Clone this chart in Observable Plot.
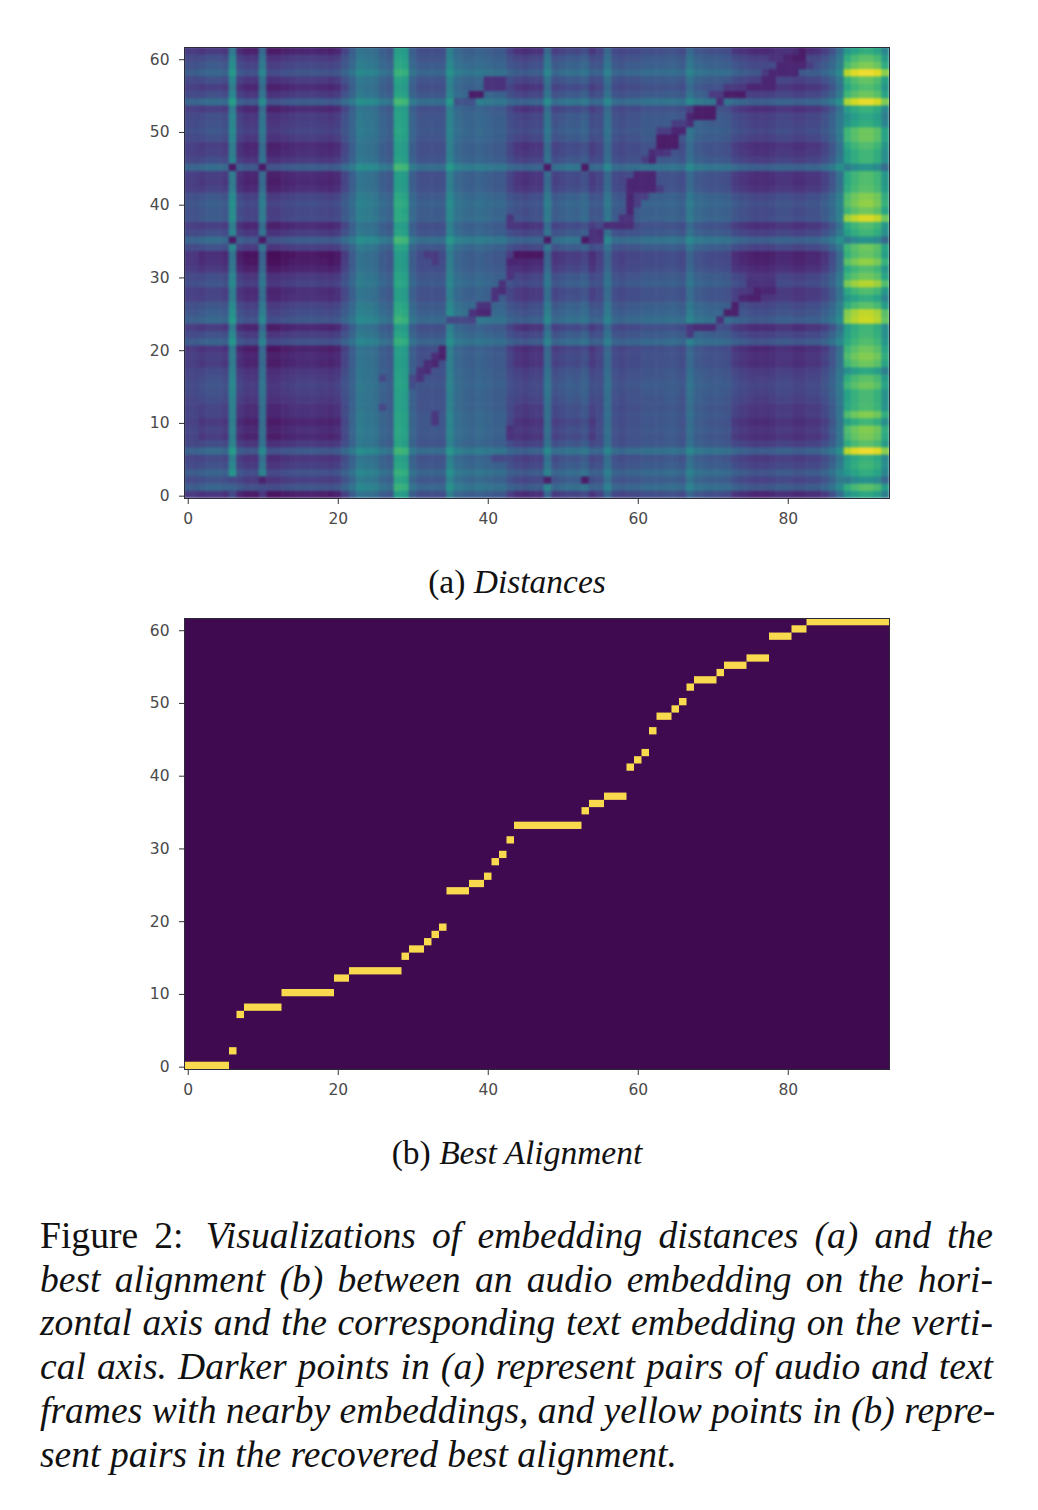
<!DOCTYPE html>
<html><head><meta charset="utf-8">
<script src="https://cdn.jsdelivr.net/npm/d3@7"></script>
<script src="https://cdn.jsdelivr.net/npm/@observablehq/plot@0.6"></script>
<style>
html,body{margin:0;padding:0;background:#fff}
#page{position:relative;width:1038px;height:1510px;overflow:hidden}
#pa,#pb{position:absolute;left:0}
#pa{top:0}#pb{top:571px}
.sub{position:absolute;left:0;width:1034px;text-align:center;font:33.5px "Liberation Serif",serif;color:#111;line-height:36px}
.sub i{font-style:italic}
#fig{position:absolute;left:40px;top:1214px;width:953px;font:37.6px "Liberation Serif",serif;color:#111;line-height:43.7px}
#fig div{white-space:nowrap;text-align:justify;text-align-last:justify}
#fig div.last{text-align-last:left}
svg text{fill:#4a4a4a}
</style></head><body><div id="page">
<div id="pa"></div>
<div class="sub" style="top:564px">(a) <i>Distances</i></div>
<div id="pb"></div>
<div class="sub" style="top:1135px">(b) <i>Best Alignment</i></div>
<div id="fig">
<div>Figure 2: <i style="margin-left:6px">Visualizations of embedding distances (a) and the</i></div>
<div><i>best alignment (b) between an audio embedding on the hori-</i></div>
<div><i>zontal axis and the corresponding text embedding on the verti-</i></div>
<div><i>cal axis. Darker points in (a) represent pairs of audio and text</i></div>
<div><i>frames with nearby embeddings, and yellow points in (b) repre-</i></div>
<div class="last"><i>sent pairs in the recovered best alignment.</i></div>
</div>
</div>
<script>
// Panel (a) is reconstructed from values: a level per audio frame,
// a lift and a dip per text frame, the right-hand band per text frame, and the dark ridge cells.
const colLevel=[.20,.20,.22,.24,.24,.22,.46,.18,.15,.15,.38,.13,.13,.15,.16,.17,.17,.17,.16,.15,.17,.23,.30,.40,.38,.36,.30,.27,.59,.57,.30,.24,.24,.24,.24,.44,.34,.31,.30,.32,.30,.28,.28,.22,.20,.18,.20,.20,.38,.24,.26,.28,.27,.30,.22,.22,.36,.24,.22,.24,.24,.26,.26,.26,.27,.27,.25,.37,.30,.28,.27,.27,.26,.22,.20,.18,.17,.17,.18,.20,.20,.18,.18,.20,.20,.24,.30,.40,.66,.72,.76,.76,.72,.58];
const dipWeight=[.5,.5,1,1,1,1,.6,1,1,1,.6,1,1,1,1,1,1,1,1,1,1,.6,.2,.2,.2,.2,.2,.2,.2,.2,.2,.2,.2,.2,.2,.2,.2,.2,.2,.2,.2,.2,.2,.5,.9,.9,.9,.9,.6,.9,.9,.9,.9,.9,.9,.4,.4,.4,.4,.4,.4,.4,.4,.4,.4,.4,.4,.5,.5,.5,.5,.5,.5,.9,.9,.9,.9,.9,.9,.9,.9,.9,.9,.9,.9,.9,.7,.5,0,0,0,0,0,0];
const rowLift=[0,.08,.02,.07,.02,0,.10,.01,.04,.04,.04,.03,.01,0,0,.01,0,0,0,0,0,.07,.02,0,.09,.05,.03,0,0,.03,.02,0,0,0,.02,.11,.01,0,.04,.03,.05,.03,0,0,0,.11,.01,0,0,.01,.02,.01,.01,0,.11,.02,0,.01,.08,.03,.01,0];
const rowDip=[.10,0,.02,0,.02,.03,0,.03,.12,.10,.13,.08,.06,.02,0,0,.01,.03,.08,.07,.10,0,.02,.08,0,0,.01,.05,.06,.02,.04,.09,.12,.13,.02,0,.02,.07,0,0,0,.01,.06,.08,.07,0,.03,.06,.07,.02,0,.01,.02,.07,0,.03,.07,.02,0,0,.02,.09];
const bandByRow=[.55,.68,.45,.58,.62,.60,.95,.68,.74,.76,.62,.76,.65,.64,.64,.72,.68,.55,.72,.76,.72,.66,.63,.62,.88,.86,.68,.58,.66,.84,.72,.66,.78,.70,.72,.45,.62,.66,.90,.72,.78,.76,.68,.66,.66,.46,.62,.62,.66,.72,.72,.58,.55,.60,.93,.72,.66,.70,.95,.75,.68,.58];
// dark runs: text row, first and last audio frame, level
const ridgeRow=  [2,2,2,2,1,1,0,0,35,35,35,35,45,45,45,45,15,16,16,17,17,18,18,19,19,20,24,24,25,25,26,27,28,28,29,30,31,32,33,35,36,36,37,37,38,39,40,41,42,43,44,46,47,47,48,49,50,50,51,52,52,53,54,55,56,57,58,59,60,60,61,61,22,23,23,24,25,26,27,27,28,28,29,30,54,55,56,57,10,11,32,33,16,12,37,38,8,9,5, 41,40,42,47,50,51,46,53,52,55,56,58,60,59];
const ridgeFrom=[6,10,48,53,6,10,6,10,6,10,48,53,6,10,48,53,30,30,31,31,32,32,33,33,34,34,35,38,38,39,39,41,41,42,42,43,43,43,44,54,54,55,56,57,58,59,59,59,59,59,60,62,62,63,63,63,65,66,67,67,68,68,71,72,75,77,78,79,80,81,82,83,67,67,68,71,72,73,74,75,76,77,75,75,36,38,40,40,33,33,33,32,26,26,43,43,43,43,41, 60,60,63,64,63,65,61,67,69,70,72,77,78,83];
const ridgeTo=  [6,10,48,53,6,10,6,10,6,10,48,53,6,10,48,53,30,31,31,32,32,33,33,34,34,34,37,38,39,40,40,41,41,42,42,43,43,44,47,55,55,55,57,59,59,59,59,59,62,62,62,62,62,63,65,65,66,66,67,68,70,70,71,74,78,78,81,82,82,82,82,83,67,67,70,71,73,73,74,76,76,78,78,78,38,39,42,42,33,33,33,33,26,26,43,43,43,43,42, 61,60,63,64,64,66,61,67,70,71,74,77,79,83];
const ridgeValue=[.2,.07,.06,.05,.3,.22,.2,.14,.04,.04,.04,.04,.04,.04,.04,.04,.22,.2,.12,.12,.1,.1,.08,.1,.06,.06,.2,.18,.12,.08,.12,.12,.12,.1,.12,.12,.12,.08,.03,.12,.12,.1,.1,.1,.12,.08,.08,.08,.08,.08,.08,.08,.1,.12,.05,.05,.08,.08,.1,.08,.05,.05,.1,.05,.08,.08,.08,.08,.07,.05,.05,.1,.15,.14,.1,.12,.06,.06,.08,.06,.06,.08,.12,.13,.24,.05,.12,.12,.14,.14,.15,.15,.2,.2,.14,.14,.12,.12,.2, .16,.16,.16,.14,.16,.16,.16,.16,.14,.15,.15,.15,.12,.16];
const alignRows= [0,2,7,8,10,12,13,15,16,17,18,19,24,25,26,28,29,31,33,35,36,37,41,42,43,46,48,49,50,52,53,54,55,56,59,60,61];
const alignFirst=[0,6,7,8,13,20,22,29,30,32,33,34,35,38,40,41,42,43,44,53,54,56,59,60,61,62,63,65,66,67,68,71,72,75,78,81,83];
const alignLast= [5,6,7,12,19,21,28,29,31,32,33,34,37,39,40,41,42,43,52,53,55,58,59,60,61,62,64,65,66,67,70,71,74,77,80,82,93];
const xTicks=[0,20,40,60,80], yTicks=[0,10,20,30,40,50,60];

const cells=[];
colLevel.forEach((lv,c)=>rowLift.forEach((lift,r)=>{
  let v = c>=88 ? bandByRow[r]+(lv-.70) : lv+lift-rowDip[r]*dipWeight[c];
  ridgeRow.forEach((rr,i)=>{ if(rr===r&&c>=ridgeFrom[i]&&c<=ridgeTo[i]) v=Math.min(v,ridgeValue[i]); });
  cells.push({c,r,v});
}));
const base={width:1038,height:540,marginLeft:184,marginRight:149,marginTop:47,marginBottom:42,
  style:{fontFamily:"DejaVu Sans",background:"transparent",overflow:"visible"},
  x:{domain:[-.5,93.5],axis:null},y:{domain:[-.5,61.5],axis:null}};
const axes=[
  Plot.axisX({ticks:xTicks,tickSize:6,tickPadding:8,label:null,tickFormat:d=>d,stroke:"#333",fontSize:15.5}),
  Plot.axisY({ticks:yTicks,tickSize:5,tickPadding:10,label:null,tickFormat:d=>d,stroke:"#333",fontSize:15.5,dy:1.3}),
  Plot.frame({stroke:"#2a2a3a",strokeWidth:1})
];
const washed=t=>d3.interpolateRgb(d3.interpolateViridis(t),"#6a7a8a")(.1);
document.getElementById("pa").append(Plot.plot({...base,
  color:{type:"linear",interpolate:washed,domain:[0,1],clamp:true},
  marks:[
    Plot.rect(cells,{x1:d=>d.c-.5,x2:d=>d.c+.5,y1:d=>d.r-.5,y2:d=>d.r+.5,fill:"v",inset:-.3,clip:"frame",imageFilter:"blur(1.3px)"}),
    ...axes]}));
const align=alignRows.map((r,i)=>({r,a:alignFirst[i],b:alignLast[i]}));
document.getElementById("pb").append(Plot.plot({...base,
  marks:[
    Plot.frame({fill:"#3f0a50"}),
    Plot.rect(align,{x1:d=>d.a-.5,x2:d=>d.b+.5,y1:d=>d.r-.5,y2:d=>d.r+.5,fill:"#f9da4f",clip:"frame",imageFilter:"blur(.4px)"}),
    ...axes]}));
</script></body></html>
